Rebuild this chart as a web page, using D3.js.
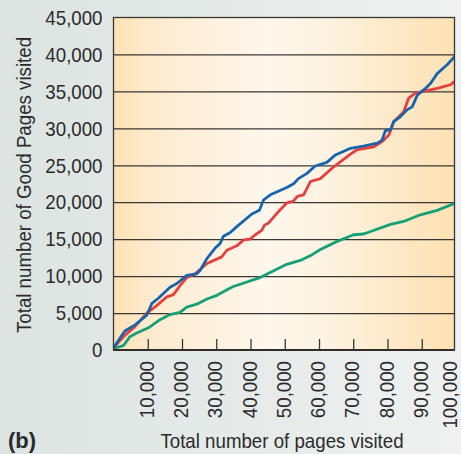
<!DOCTYPE html>
<html>
<head>
<meta charset="utf-8">
<script src="https://cdn.jsdelivr.net/npm/d3@7"></script>
<style>
  html, body { margin: 0; padding: 0; background: #e6ecea; }
  svg { display: block; font-family: "Liberation Sans", Arial, sans-serif; }
</style>
</head>
<body>
<svg id="chart"></svg>
<script>
const width = 461;
const height = 454;

// Data: [pages visited, good pages visited]
const blueSeries = [
  [0, 300], [2900, 2300], [3400, 2600], [6300, 3400], [9700, 4700], [11200, 6300],
  [13100, 7000], [16500, 8500], [18500, 9000], [21400, 10100], [24300, 10300],
  [25300, 10800], [27300, 12400], [29700, 13800], [31100, 14400], [32100, 15400],
  [34100, 15900], [36000, 16700], [40400, 18400], [42600, 18900], [43800, 20300],
  [45800, 21000], [50600, 22000], [52600, 22500], [54000, 23200], [56500, 23900],
  [58900, 24900], [62300, 25400], [64800, 26400], [69200, 27300], [73000, 27600],
  [77000, 28000], [78400, 28400], [79400, 29700], [80900, 29800], [81800, 30900],
  [83800, 31600], [85700, 32500], [87200, 32900], [88700, 34500], [91100, 35400],
  [92600, 36100], [94500, 37400], [97400, 38600], [100000, 39900]
];
const redSeries = [
  [0, 300], [2900, 1800], [6300, 3200], [9700, 5000], [12600, 6000], [15600, 7200],
  [17500, 7500], [19400, 8700], [21400, 9800], [23800, 10300], [25800, 11100],
  [27300, 11700], [31600, 12600], [33100, 13500], [36000, 14100], [38000, 14900],
  [39900, 15000], [41400, 15600], [43300, 16200], [44100, 16900], [45300, 17200],
  [47700, 18500], [50600, 19900], [52400, 20100], [53700, 20800], [55500, 21000],
  [57500, 22800], [60400, 23200], [64300, 24800], [69200, 26500], [71100, 27100],
  [76000, 27500], [78400, 28200], [80400, 29100], [81800, 30900], [84700, 32200],
  [86200, 34100], [88200, 34800], [90600, 35000], [94500, 35400], [98400, 35900],
  [100000, 36500]
];
const greenSeries = [
  [0, 200], [2900, 600], [4800, 1800], [6800, 2300], [10200, 3000], [13600, 4100],
  [16500, 4800], [19400, 5100], [21400, 5800], [24300, 6200], [27300, 6900],
  [30200, 7400], [34100, 8400], [35000, 8600], [42800, 9800], [50600, 11600],
  [55000, 12200], [58000, 12900], [60400, 13600], [65300, 14700], [70100, 15600],
  [73000, 15700], [80900, 17000], [84700, 17400], [89600, 18300], [94500, 18900],
  [100000, 19900]
];

const yTicks = d3.range(0, 45001, 5000);
const gridTicks = d3.range(5000, 40001, 5000);
const xTicks = d3.range(10000, 100001, 10000);

const seriesColors = ["#1664ae", "#e5403e", "#16a077"];

const plot = { left: 113.5, top: 17.5, right: 454.5, bottom: 350 };

const svg = d3.select("#chart")
  .attr("width", width)
  .attr("height", height);

const defs = svg.append("defs");

// Outer background
const bg = defs.append("linearGradient").attr("id", "bg");
bg.append("stop").attr("offset", "0%").attr("stop-color", "#dce4e2");
bg.append("stop").attr("offset", "100%").attr("stop-color", "#eef1f0");

// Plot fill: orange at edges, pale in the middle
const pg = defs.append("linearGradient").attr("id", "plotfill");
[["0%", "#fde2b6"], ["12%", "#fdebd0"], ["45%", "#fef7ec"], ["62%", "#fdf3e2"], ["100%", "#fde1b2"]]
  .forEach(([o, c]) => pg.append("stop").attr("offset", o).attr("stop-color", c));

defs.append("clipPath").attr("id", "clip")
  .append("rect")
  .attr("x", plot.left).attr("y", plot.top)
  .attr("width", plot.right - plot.left).attr("height", plot.bottom - plot.top);

svg.append("rect").attr("width", width).attr("height", height).attr("fill", "url(#bg)");

const x = d3.scaleLinear().domain([0, 100000]).range([113.5, 456]);
const y = d3.scaleLinear().domain([0, 45000]).range([plot.bottom, plot.top]);

svg.append("rect")
  .attr("x", plot.left).attr("y", plot.top)
  .attr("width", plot.right - plot.left).attr("height", plot.bottom - plot.top)
  .attr("fill", "url(#plotfill)");

// squeeze text horizontally to mimic the condensed face
function squeeze(sel, k) {
  sel.each(function () {
    const w = this.getComputedTextLength();
    d3.select(this).attr("textLength", w * k).attr("lengthAdjust", "spacingAndGlyphs");
  });
}

// Gridlines
const grid = svg.append("g")
  .attr("transform", `translate(${plot.left},0)`)
  .call(d3.axisLeft(y).tickValues(gridTicks).tickSize(-(plot.right - plot.left)).tickFormat(""));
grid.select(".domain").remove();
grid.selectAll("line").attr("stroke", "#3a3733").attr("stroke-width", 1.3);

// Lines
const line = d3.line().x(d => x(d[0])).y(d => y(d[1]));
const lines = svg.append("g").attr("clip-path", "url(#clip)");
[greenSeries, redSeries, blueSeries].forEach((s, i) => {
  lines.append("path")
    .datum(s)
    .attr("d", line)
    .attr("fill", "none")
    .attr("stroke", seriesColors[2 - i])
    .attr("stroke-width", 2.8)
    .attr("stroke-linejoin", "round");
});

// Frame
svg.append("rect")
  .attr("x", plot.left).attr("y", plot.top)
  .attr("width", plot.right - plot.left).attr("height", plot.bottom - plot.top)
  .attr("fill", "none")
  .attr("stroke", "#3a3733")
  .attr("stroke-width", 1.3);

// Y axis labels
const yAxis = svg.append("g")
  .attr("transform", `translate(${plot.left},0)`)
  .call(d3.axisLeft(y).tickValues(yTicks).tickSize(0).tickPadding(11).tickFormat(d3.format(",")));
yAxis.select(".domain").remove();
yAxis.selectAll("text")
  .attr("font-size", 21)
  .attr("font-family", "Liberation Sans, Arial, sans-serif")
  .attr("fill", "#2b2b2b")
  .call(squeeze, 0.89);

// X axis: inner ticks, rotated labels
const xAxis = svg.append("g")
  .attr("transform", `translate(0,${plot.bottom})`)
  .call(d3.axisBottom(x).tickValues(xTicks).tickSize(-11).tickFormat(d3.format(",")));
xAxis.select(".domain")
  .attr("d", `M${plot.left},0H${plot.right}`)
  .attr("stroke", "#2f2c29")
  .attr("stroke-width", 2);
xAxis.selectAll(".tick line")
  .attr("stroke", "#3a3733")
  .attr("stroke-width", 1.3)
  .filter(d => d === 100000).remove();
xAxis.selectAll("text")
  .attr("transform", "rotate(-90)")
  .attr("text-anchor", "end")
  .attr("x", -11)
  .attr("y", 0)
  .attr("dy", d => d === 100000 ? "0.04em" : "0.27em")
  .attr("font-size", 21)
  .attr("font-family", "Liberation Sans, Arial, sans-serif")
  .attr("fill", "#2b2b2b")
  .call(squeeze, 0.89);

// Axis titles
svg.append("text")
  .attr("transform", "translate(31,185) rotate(-90)")
  .attr("text-anchor", "middle")
  .attr("font-size", 21)
  .attr("fill", "#2b2b2b")
  .text("Total number of Good Pages visited")
  .call(squeeze, 0.89);

svg.append("text")
  .attr("x", 282)
  .attr("y", 448)
  .attr("text-anchor", "middle")
  .attr("font-size", 21)
  .attr("fill", "#2b2b2b")
  .text("Total number of pages visited")
  .call(squeeze, 0.89);

svg.append("text")
  .attr("x", 8)
  .attr("y", 448)
  .attr("font-size", 22)
  .attr("font-weight", "bold")
  .attr("fill", "#2b2b2b")
  .text("(b)");
</script>
</body>
</html>
